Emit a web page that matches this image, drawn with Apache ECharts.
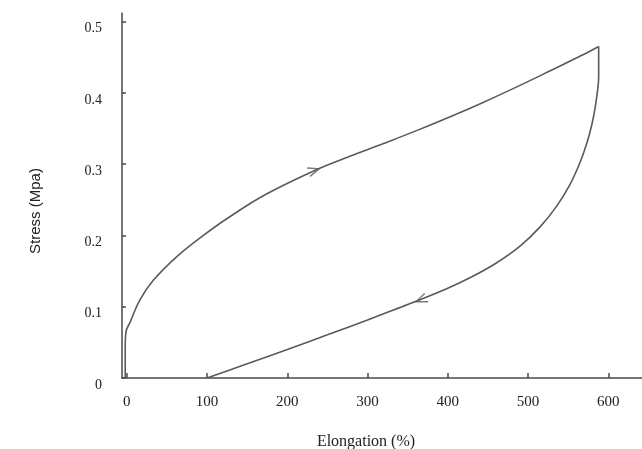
<!DOCTYPE html>
<html>
<head>
<meta charset="utf-8">
<script src="https://cdn.jsdelivr.net/npm/echarts@6/dist/echarts.min.js"></script>
<style>
  html, body { margin: 0; padding: 0; background: #fff; }
  #chart { width: 642px; height: 449px; }
</style>
</head>
<body>
<div id="chart"></div>
<script>
// loading curve (elongation %, stress MPa)
var loadX = [-2, -2, -1, 4, 16, 33, 62, 95, 126, 174, 236, 278, 320, 361, 403, 444, 486, 527, 569, 588];
var loadY = [0, 0.045, 0.065, 0.078, 0.109, 0.137, 0.170, 0.1997, 0.2245, 0.258, 0.292, 0.311, 0.329, 0.347, 0.3665, 0.3866, 0.4084, 0.4306, 0.4537, 0.465];
// unloading curve
var unloadX = [588, 588, 587, 584, 580, 574, 565, 552, 535, 515, 490, 460, 430, 400, 350, 300, 250, 200, 150, 100];
var unloadY = [0.465, 0.422, 0.407, 0.382, 0.358, 0.332, 0.303, 0.271, 0.240, 0.212, 0.185, 0.161, 0.142, 0.126, 0.103, 0.0815, 0.0605, 0.040, 0.020, 0];
// direction arrows
var arrowX = [233, 367];
var arrowY = [0.291, 0.110];
var arrowAngle = [18, 202];

var xTicks = [0, 100, 200, 300, 400, 500, 600];
var yTicks = [0, 0.1, 0.2, 0.3, 0.4, 0.5];

function pairs(xs, ys) {
    var out = [];
    for (var i = 0; i < xs.length; i++) out.push([xs[i], ys[i]]);
    return out;
}

var arrows = [];
for (var i = 0; i < arrowX.length; i++) {
    arrows.push({ value: [arrowX[i], arrowY[i]], symbolRotate: arrowAngle[i] });
}

var myChart = echarts.init(document.getElementById('chart'));
var lineColor = '#5a5a5a';
var axisColor = '#4a4a4a';
var serif = '"Liberation Serif", "DejaVu Serif", serif';

myChart.setOption({
    animation: false,
    grid: { left: 122, right: 0, top: 13, bottom: 71 },
    xAxis: {
        type: 'value',
        min: -6,
        max: 642,
        splitLine: { show: false },
        axisLine: { onZero: false, lineStyle: { color: axisColor, width: 1.5 } },
        axisTick: { inside: true, length: 5, customValues: xTicks, lineStyle: { color: axisColor, width: 1.5 } },
        axisLabel: { customValues: xTicks, margin: 17, color: '#222', fontFamily: serif, fontSize: 15 }
    },
    yAxis: {
        type: 'value',
        min: 0,
        max: 0.512,
        splitLine: { show: false },
        axisLine: { onZero: false, lineStyle: { color: axisColor, width: 1.5 } },
        axisTick: { inside: true, length: 4, customValues: yTicks, lineStyle: { color: axisColor, width: 1.5 } },
        axisLabel: {
            customValues: yTicks, margin: 20, color: '#222', fontFamily: serif, fontSize: 14,
            verticalAlign: 'top'
        }
    },
    graphic: [
        {
            type: 'text', x: 366, y: 442,
            style: { text: 'Elongation (%)', font: '16px ' + serif, fill: '#222', textAlign: 'center', textVerticalAlign: 'middle' }
        },
        {
            type: 'text', x: 36, y: 211, rotation: Math.PI / 2,
            style: { text: 'Stress (Mpa)', font: '15px "Liberation Sans", Arial, sans-serif', fill: '#222', textAlign: 'center', textVerticalAlign: 'middle' }
        }
    ],
    series: [
        {
            type: 'line', data: pairs(loadX, loadY), showSymbol: false, smooth: 0.4,
            lineStyle: { color: lineColor, width: 1.6 }
        },
        {
            type: 'line', data: pairs(unloadX, unloadY), showSymbol: false, smooth: 0.3,
            lineStyle: { color: lineColor, width: 1.6 }
        },
        {
            type: 'scatter', data: arrows,
            symbol: 'path://M0,0L12,5L0,10', symbolSize: [11, 9],
            itemStyle: { color: 'none', borderColor: lineColor, borderWidth: 1.6 }
        }
    ]
});
</script>
</body>
</html>
